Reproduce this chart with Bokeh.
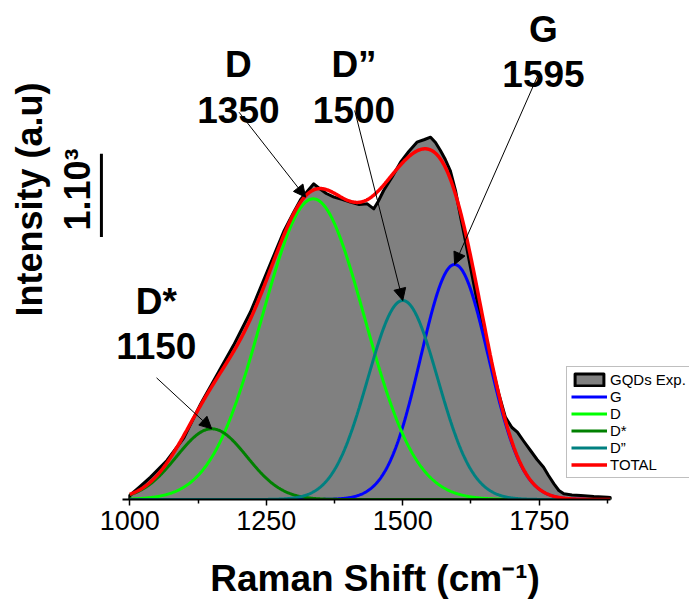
import numpy as np
from bokeh.plotting import figure
from bokeh.layouts import column
from bokeh.models import (Range1d, FixedTicker, Legend, LegendItem, Arrow,
                          NormalHead, ColumnDataSource)
from bokeh.core.properties import value
from bokeh.embed import file_html
from bokeh.resources import INLINE

# Measured Raman spectrum of the GQDs (shift in cm-1, intensity in counts)
exp_shift = [1000, 1019, 1038, 1068, 1099, 1130, 1160, 1190, 1221, 1252,
             1282, 1300, 1313, 1325, 1337, 1345, 1360, 1374, 1390, 1404,
             1420, 1435, 1447, 1455, 1465, 1480, 1496, 1511, 1526, 1540,
             1551, 1560, 1569, 1578, 1587, 1597, 1606, 1615, 1624, 1642,
             1661, 1676, 1688, 1700, 1710, 1722, 1734, 1746, 1758, 1767,
             1777, 1786, 1795, 1810, 1826, 1850, 1875, 1880]
exp_intensity = [48, 156, 268, 468, 740, 1150, 1500, 1850, 2250, 2740,
                 3216, 3444, 3600, 3696, 3788, 3744, 3672, 3628, 3600, 3568,
                 3540, 3548, 3488, 3576, 3708, 3864, 4048, 4176, 4288, 4320,
                 4348, 4284, 4188, 4080, 3948, 3696, 3388, 3096, 2788, 2188,
                 1668, 1268, 988, 864, 808, 696, 588, 480, 388, 288,
                 188, 108, 68, 54, 48, 36, 28, 24]

# Gaussian bands of the fit (legend order)
peak_names = ["G", "D", "D*", "D\u201d"]
peak_centers = [1595, 1336, 1150, 1500]
peak_heights = [2820, 3608, 848, 2388]
peak_fwhm = [146, 221, 152, 151]
peak_colors = ["#0000ff", "#00ff00", "#008000", "#008080"]

# Band annotations
band_labels = ["D*", "D", "D\u201d", "G"]
band_positions = ["1150", "1350", "1500", "1595"]

x_ticks = [1000, 1250, 1500, 1750]
x_minor_ticks = [1125, 1375, 1625, 1875]
scale_bar_counts = 1000
x_title = "Raman Shift (cm\u207b\u00b9)"

FONT = "Liberation Sans"
W = 689
TITLE_H = 56

p = figure(width=W, height=600 - TITLE_H, output_backend="svg",
           toolbar_location=None,
           x_range=Range1d(763.14, 2025.28), y_range=Range1d(0, 5988),
           y_axis_location=None, min_border_left=0, min_border_right=0,
           min_border_top=0, min_border_bottom=45)
p.outline_line_color = None
p.grid.visible = False
p.background_fill_color = "white"
p.border_fill_color = "white"

# x axis
ax = p.xaxis[0]
ax.ticker = FixedTicker(ticks=x_ticks, minor_ticks=x_minor_ticks)
ax.bounds = (987, 1880)
ax.axis_line_width = 2
ax.axis_line_color = "black"
ax.major_tick_line_width = 1.5
ax.minor_tick_line_width = 1.5
ax.major_tick_out = 6
ax.major_tick_in = 0
ax.minor_tick_out = 4
ax.minor_tick_in = 0
ax.major_label_standoff = 5
ax.major_label_text_font = FONT
ax.major_label_text_font_size = "27px"
ax.major_label_text_color = "black"

# experimental spectrum as a filled outline
patch_x = [exp_shift[0]] + exp_shift + [exp_shift[-1]]
patch_y = [0] + exp_intensity + [0]
r_exp = p.patch(patch_x, patch_y, fill_color="#808080", line_color="black",
                line_width=3, line_join="round")

# fitted bands and their sum
grid = np.arange(exp_shift[0], exp_shift[-1] + 1, 1.0)
total = np.zeros_like(grid)
band_renderers = []
for name, c, h, w, col in zip(peak_names, peak_centers, peak_heights,
                               peak_fwhm, peak_colors):
    yb = h * np.exp(-4 * np.log(2) * (grid - c) ** 2 / w ** 2)
    total += yb
    band_renderers.append(p.line(grid, yb, line_color=col, line_width=3))
r_tot = p.line(grid, total, line_color="#ff0000", line_width=3.5)

# band labels and arrows
apex = {n: (c, h) for n, c, h in zip(peak_names, peak_centers, peak_heights)}
label_x = [1048.5, 1199, 1410.7, 1757.8]
label_num_y = [1838, 4680, 4680, 5108]
name_gap = 535
p.text(x=label_x, y=[v + name_gap for v in label_num_y], text=band_labels,
       text_font=value(FONT), text_font_style="bold",
       text_font_size=value("37px"), text_align="center",
       text_baseline="middle", text_color="black")
p.text(x=label_x, y=label_num_y, text=band_positions,
       text_font=value(FONT), text_font_style="bold",
       text_font_size=value("37px"), text_align="center",
       text_baseline="middle", text_color="black")

arrow_end = [apex["D*"], (1322, 3628), apex["D\u201d"], apex["G"]]
arrows = ColumnDataSource(dict(
    x0=[1049, 1200, 1412, 1751],
    y0=[1460, 4648, 4668, 5140],
    x1=[e[0] for e in arrow_end],
    y1=[e[1] for e in arrow_end],
))
p.add_layout(Arrow(end=NormalHead(size=12, fill_color="black",
                                  line_color="black", line_width=1),
                   x_start="x0", y_start="y0", x_end="x1", y_end="y1",
                   source=arrows, line_color="black", line_width=1))

# intensity scale bar in place of a y axis
bar_x = 948
bar_bottom = 3150
p.segment(x0=[bar_x], y0=[bar_bottom], x1=[bar_x],
          y1=[bar_bottom + scale_bar_counts], line_color="black",
          line_width=3)
p.text(x=[905], y=[3720], text=["1.10\u00b3"], angle=np.pi / 2,
       text_font=value(FONT), text_font_style="bold",
       text_font_size=value("36px"), text_align="center",
       text_baseline="middle", text_color="black")
p.text(x=[816.6], y=[3600], text=["Intensity (a.u)"], angle=np.pi / 2,
       text_font=value(FONT), text_font_style="bold",
       text_font_size=value("36px"), text_align="center",
       text_baseline="middle", text_color="black")

# legend
items = [LegendItem(label="GQDs Exp.", renderers=[r_exp])]
for name, r in zip(peak_names, band_renderers):
    items.append(LegendItem(label=name, renderers=[r]))
items.append(LegendItem(label="TOTAL", renderers=[r_tot]))
legend = Legend(items=items, location=(566, 21), margin=0, padding=4,
                spacing=0, glyph_width=36, glyph_height=15, label_height=15,
                label_standoff=3, label_text_font=FONT,
                label_text_font_size="15px", label_text_color="black",
                border_line_color="#808080", border_line_width=1,
                background_fill_color="white", background_fill_alpha=1.0)
p.add_layout(legend)

# strip beneath the plot holding the x-axis title (pixel coordinates)
t = figure(width=W, height=TITLE_H, output_backend="svg",
           toolbar_location=None, x_range=Range1d(0, W),
           y_range=Range1d(TITLE_H, 0), x_axis_location=None,
           y_axis_location=None, min_border=0)
t.outline_line_color = None
t.grid.visible = False
t.background_fill_color = "white"
t.border_fill_color = "white"
t.text(x=[374.5], y=[34], text=[x_title], text_font=value(FONT),
       text_font_style="bold", text_font_size=value("37px"),
       text_align="center", text_baseline="middle", text_color="black")

page = column(p, t, spacing=0)
open("out.html", "w").write(file_html(page, INLINE))
